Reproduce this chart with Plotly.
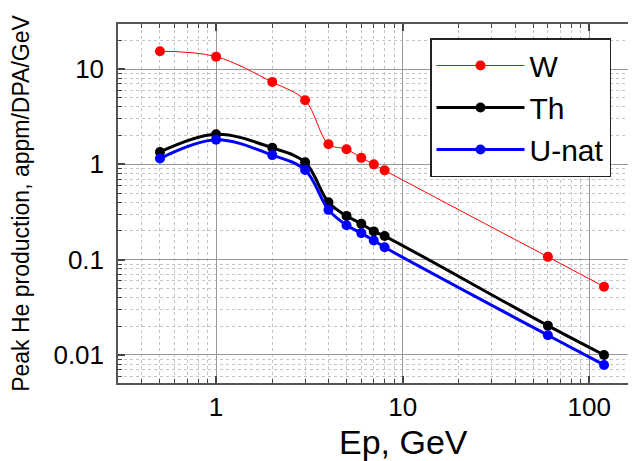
import plotly.graph_objects as go
import math

# Data
ep = [0.5, 1, 2, 3, 4, 5, 6, 7, 8, 60, 120]
w_vals = [15.4, 13.5, 7.3, 4.7, 1.63, 1.44, 1.17, 1.0, 0.865, 0.107, 0.052]
th_vals = [1.35, 2.07, 1.49, 1.05, 0.40, 0.288, 0.238, 0.198, 0.177, 0.0203, 0.0100]
u_vals = [1.15, 1.81, 1.25, 0.875, 0.333, 0.23, 0.19, 0.159, 0.135, 0.0161, 0.00786]

x_ticks = [1, 10, 100]
x_ticktext = ["1", "10", "100"]
y_ticks = [0.01, 0.1, 1, 10]
y_ticktext = ["0.01", "0.1", "1", "10"]
x_title = "Ep, GeV"
y_title = "Peak He production, appm/DPA/GeV"

FONT = "Liberation Sans, Arial, sans-serif"

x_minor = [m * 10 ** d for d in range(-1, 3) for m in range(2, 10)]
y_minor = [m * 10 ** d for d in range(-3, 2) for m in range(2, 10)]

fig = go.Figure()
fig.add_trace(go.Scatter(x=ep, y=w_vals, name="W", mode="lines+markers",
                         line=dict(color="#ff0000", width=1, shape="spline", smoothing=1.0),
                         marker=dict(color="#ff0000", size=10)))
fig.add_trace(go.Scatter(x=ep, y=th_vals, name="Th", mode="lines+markers",
                         line=dict(color="#000000", width=3, shape="spline", smoothing=1.0),
                         marker=dict(color="#000000", size=10)))
fig.add_trace(go.Scatter(x=ep, y=u_vals, name="U-nat", mode="lines+markers",
                         line=dict(color="#0000ff", width=3, shape="spline", smoothing=1.0),
                         marker=dict(color="#0000ff", size=10)))

axis_common = dict(
    type="log", automargin=False,
    showline=True, linecolor="#555555", linewidth=1.5, mirror="ticks",
    ticks="inside", ticklen=7, tickcolor="#444444", tickwidth=1.5,
    showgrid=True, gridcolor="#999999", gridwidth=1,
    zeroline=False,
    tickfont=dict(family=FONT, size=26, color="#000000"),
)
minor_common = dict(ticks="inside", ticklen=4, tickcolor="#444444", tickwidth=1,
                    showgrid=True, gridcolor="#c4c4c4", griddash="dot", gridwidth=1)

fig.update_xaxes(**axis_common, range=[math.log10(0.298), math.log10(178)],
                 tickvals=x_ticks, ticktext=x_ticktext,
                 minor=dict(**minor_common, tickvals=x_minor))
fig.update_yaxes(**axis_common, range=[math.log10(0.00508), math.log10(29.7)],
                 tickvals=y_ticks, ticktext=y_ticktext, ticklabelstandoff=7,
                 minor=dict(**minor_common, tickvals=y_minor),
                 title=dict(text=y_title,
                            font=dict(family=FONT, size=23, color="#000000"), standoff=18))

fig.add_annotation(text=x_title, xref="paper", yref="paper", x=(403 - 118) / 518, y=0,
                   xanchor="center", yanchor="top", yshift=-39, showarrow=False,
                   borderpad=0, font=dict(family=FONT, size=34, color="#000000"))

fig.update_layout(
    width=636, height=461,
    margin=dict(l=110, r=8, t=16, b=86),
    paper_bgcolor="white", plot_bgcolor="white",
    legend=dict(x=(430 - 118) / 518, y=1 - (38 - 24) / 359, xref="paper", yref="paper",
                xanchor="left", yanchor="top",
                font=dict(family=FONT, size=30, color="#000000"),
                bgcolor="white", bordercolor="#222222", borderwidth=1.5,
                itemwidth=88, tracegroupgap=0),
    showlegend=True,
)

fig.write_html("out.html")
